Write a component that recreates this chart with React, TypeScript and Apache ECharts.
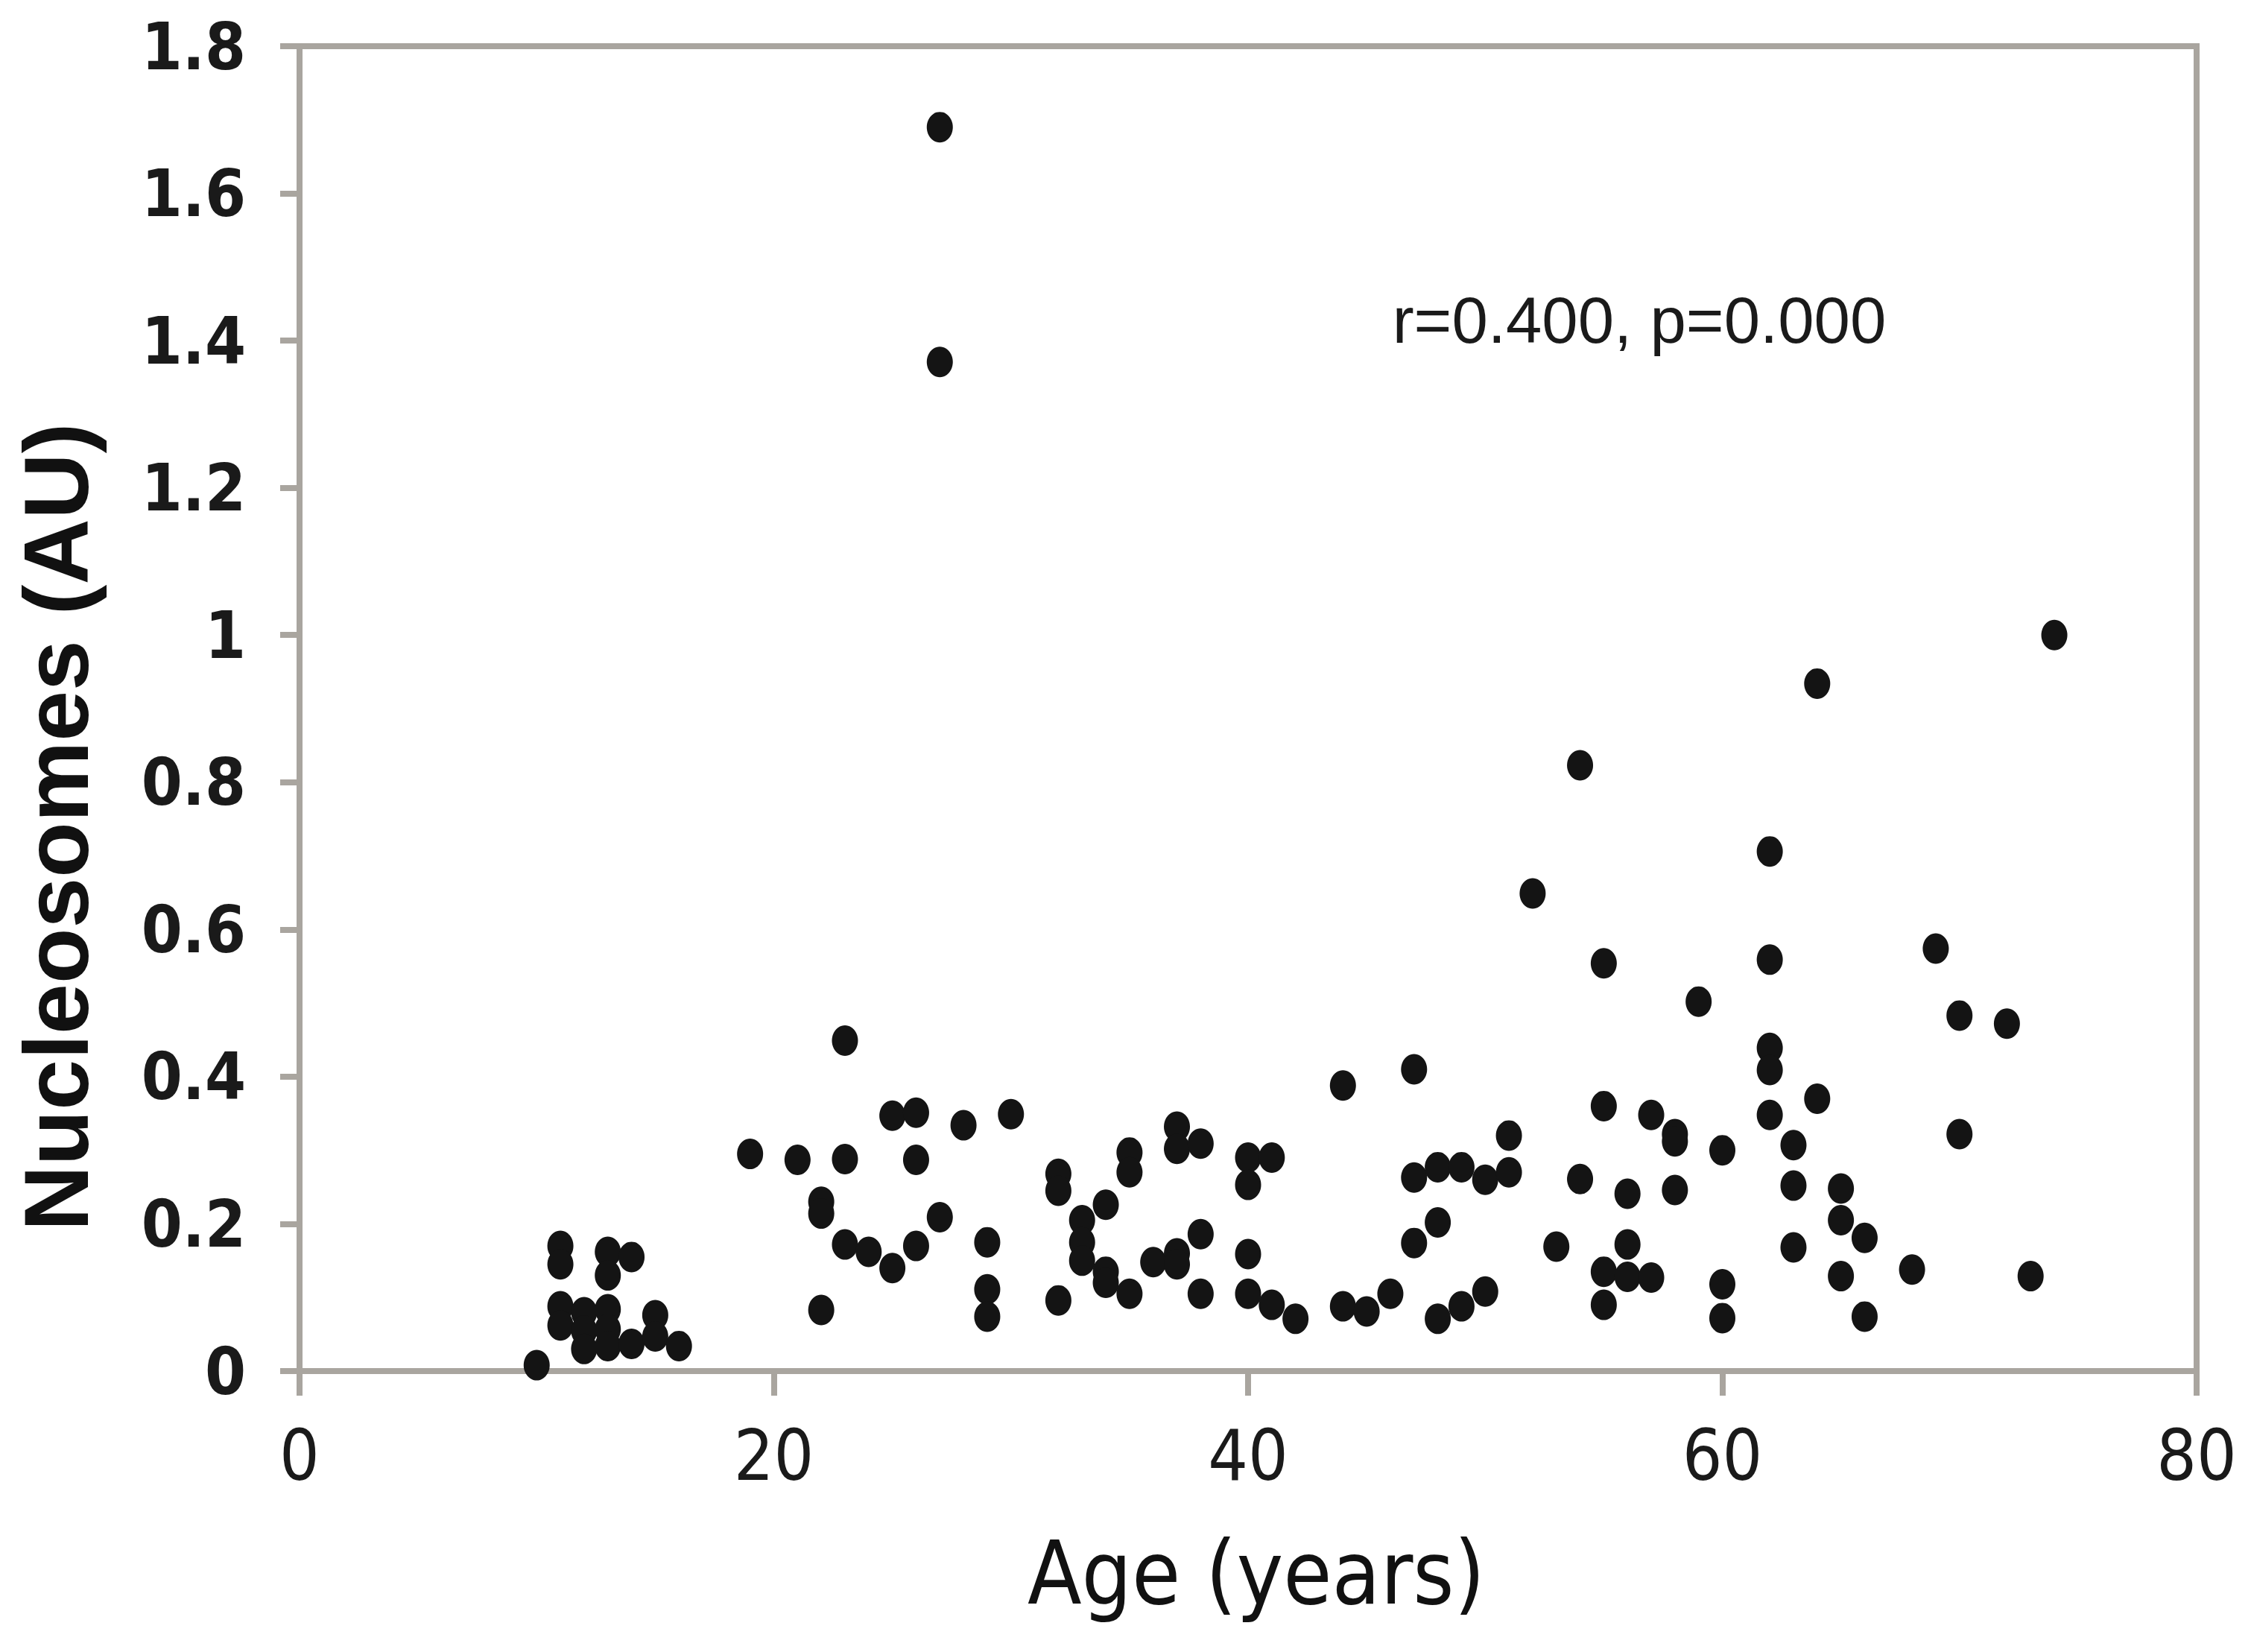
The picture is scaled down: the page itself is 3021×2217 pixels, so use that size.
import React, { useEffect, useRef } from "react";
import * as echarts from "echarts";

const ages = [
  10,
  11, 11, 11, 11,
  12, 12, 12,
  13, 13, 13, 13, 13,
  14, 14,
  15, 15,
  16,
  19,
  21,
  22, 22, 22,
  23, 23, 23,
  24,
  25, 25,
  26, 26, 26,
  27, 27, 27,
  28,
  29, 29, 29,
  30,
  32, 32, 32,
  33, 33, 33,
  34, 34, 34,
  35, 35, 35,
  36,
  37, 37, 37, 37,
  38, 38, 38,
  40, 40, 40, 40,
  41, 41,
  42,
  44, 44,
  45,
  46,
  47, 47, 47,
  48, 48, 48,
  49, 49,
  50, 50,
  51, 51,
  52,
  53,
  54, 54,
  55, 55, 55, 55,
  56, 56, 56,
  57, 57,
  58, 58, 58,
  59,
  60, 60, 60,
  62, 62, 62, 62, 62,
  63, 63, 63,
  64, 64,
  65, 65, 65,
  66, 66,
  68,
  69,
  70, 70,
  72,
  73,
  74,
];

const nucleosomes = [
  0.008,
  0.17, 0.145, 0.088, 0.062,
  0.08, 0.055, 0.03,
  0.162, 0.13, 0.084, 0.057, 0.034,
  0.155, 0.037,
  0.076, 0.047,
  0.034,
  0.295,
  0.287,
  0.23, 0.214, 0.083,
  0.449, 0.288, 0.172,
  0.162,
  0.347, 0.14,
  0.351, 0.287, 0.17,
  1.69, 1.371, 0.209,
  0.334,
  0.175, 0.111, 0.074,
  0.349,
  0.268, 0.245, 0.096,
  0.205, 0.175, 0.15,
  0.226, 0.135, 0.12,
  0.297, 0.27, 0.105,
  0.148,
  0.332, 0.302, 0.16, 0.145,
  0.309, 0.186, 0.105,
  0.29, 0.253, 0.159, 0.105,
  0.29, 0.09,
  0.071,
  0.388, 0.088,
  0.081,
  0.105,
  0.41, 0.263, 0.174,
  0.277, 0.202, 0.071,
  0.277, 0.088,
  0.26, 0.108,
  0.32, 0.27,
  0.649,
  0.169,
  0.823, 0.261,
  0.554, 0.36, 0.135, 0.09,
  0.241, 0.172, 0.128,
  0.348, 0.127,
  0.322, 0.312, 0.246,
  0.502,
  0.3, 0.118, 0.072,
  0.706, 0.559, 0.439, 0.409, 0.348,
  0.307, 0.252, 0.168,
  0.934, 0.37,
  0.248, 0.205, 0.129,
  0.181, 0.074,
  0.138,
  0.574,
  0.483, 0.322,
  0.472,
  0.129,
  1.0,
];

const xTicks = { min: 0, max: 80, interval: 20 };
const yTicks = { min: 0, max: 1.8, interval: 0.2 };
const xTitle = "Age (years)";
const yTitle = "Nucleosomes (AU)";
const annotation = "r=0.400, p=0.000";

const NARROW = '"Liberation Sans Narrow", "Arial Narrow", "DejaVu Sans Condensed", "Liberation Sans", sans-serif';
const WIDE = '"Liberation Sans", Arial, "DejaVu Sans", sans-serif';
const AXIS_GRAY = "#a9a59f";

export default function App() {
  const ref = useRef<HTMLDivElement>(null);

  useEffect(() => {
    if (!ref.current) return;
    const chart = echarts.init(ref.current, undefined, { renderer: "svg" });
    const data = ages.map((a, i) => [a, nucleosomes[i]]);
    chart.setOption({
      animation: false,
      backgroundColor: "#ffffff",
      grid: {
        left: 402,
        right: 73,
        top: 62,
        bottom: 377,
        show: true,
        borderColor: AXIS_GRAY,
        borderWidth: 8,
        backgroundColor: "transparent",
      },
      xAxis: {
        type: "value",
        min: xTicks.min,
        max: xTicks.max,
        interval: xTicks.interval,
        name: xTitle,
        nameLocation: "middle",
        nameGap: 212,
        nameTextStyle: { fontFamily: NARROW, fontSize: 118, color: "#111111", padding: [0, 0, 0, 22] },
        axisLine: { show: true, lineStyle: { color: AXIS_GRAY, width: 8 } },
        axisTick: { show: true, inside: false, length: 33, lineStyle: { color: AXIS_GRAY, width: 8 } },
        axisLabel: { fontFamily: NARROW, fontSize: 94, color: "#1a1a1a", margin: 66 },
        splitLine: { show: false },
      },
      yAxis: {
        type: "value",
        min: yTicks.min,
        max: yTicks.max,
        interval: yTicks.interval,
        axisLine: { show: true, lineStyle: { color: AXIS_GRAY, width: 8 } },
        axisTick: { show: true, inside: false, length: 26, lineStyle: { color: AXIS_GRAY, width: 8 } },
        axisLabel: {
          fontFamily: NARROW,
          fontSize: 88,
          fontWeight: "bold",
          color: "#1a1a1a",
          margin: 72,
          formatter: (v: number) => String(Math.round(v * 10) / 10),
        },
        splitLine: { show: false },
      },
      graphic: [
        {
          type: "text",
          x: 76,
          y: 1110,
          rotation: Math.PI / 2,
          style: {
            text: yTitle,
            fontFamily: WIDE,
            fontSize: 122,
            fontWeight: "bold",
            fill: "#111111",
            textAlign: "center",
            textVerticalAlign: "middle",
          },
        },
        {
          type: "text",
          x: 2200,
          y: 429,
          style: {
            text: annotation,
            fontFamily: WIDE,
            fontSize: 87,
            fill: "#1a1a1a",
            textAlign: "center",
            textVerticalAlign: "middle",
          },
        },
      ],
      series: [
        {
          type: "scatter",
          data,
          symbol: "circle",
          symbolSize: [35, 41],
          itemStyle: { color: "#141414", opacity: 1 },
        },
      ],
    });
    return () => chart.dispose();
  }, []);

  return (
    <div
      ref={ref}
      style={{ position: "fixed", left: 0, top: 0, width: 3021, height: 2217, background: "#ffffff" }}
    />
  );
}
